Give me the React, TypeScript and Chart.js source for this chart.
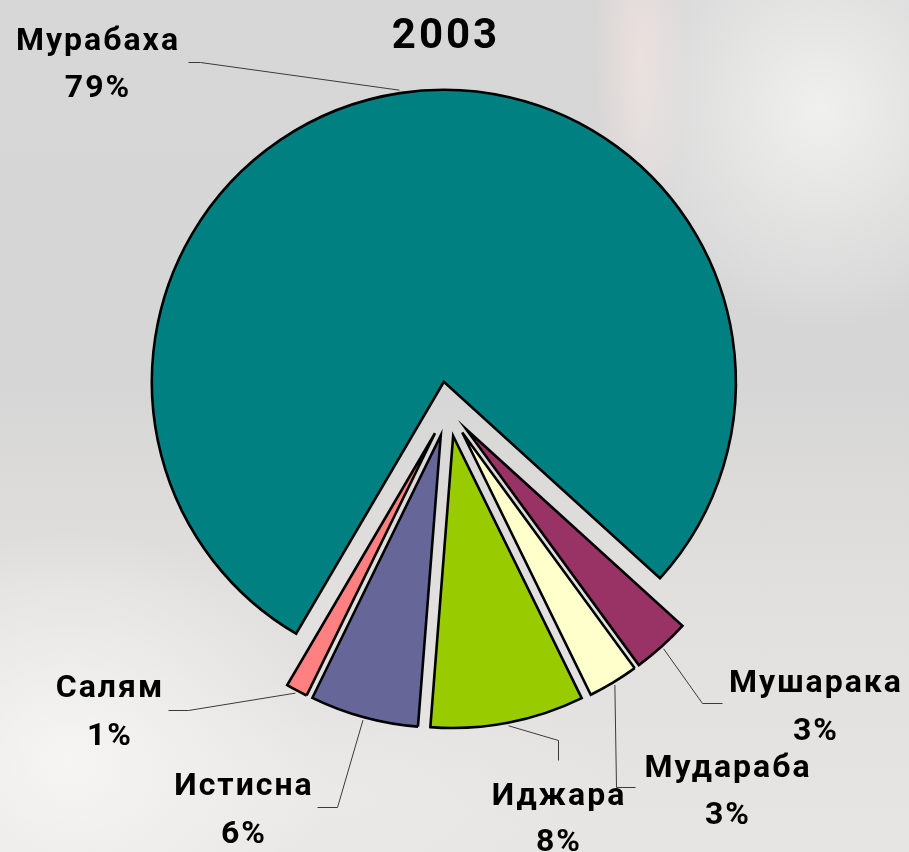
import { useEffect, useRef } from "react";
import { Chart, registerables } from "chart.js";

Chart.register(...registerables);

// ---- data ----
const chartTitle = "2003";
const categories = ["Мурабаха", "Мушарака", "Мудараба", "Иджара", "Истисна", "Салям"];
const shares = [78.3, 3.2, 2.8, 8.5, 6.0, 1.2];
const shareLabels = ["79%", "3%", "3%", "8%", "6%", "1%"];

// ---- styles / layout ----
const sliceColors = ["#008080", "#993366", "#FFFFCC", "#99CC00", "#666699", "#FF8080"];
const EXPLODE = 27.5;
const RADIUS = 292;
const labelLayout = [
  { cx: 97, b1: 50, b2: 97, path: [[200, 62], [188, 62]] },
  { cx: 815, b1: 692, b2: 740, path: [[702, 703], [722, 703]] },
  { cx: 727, b1: 777, b2: 824, path: [[616, 787], [635, 787]] },
  { cx: 558, b1: 805, b2: 851, path: [[558, 740], [558, 760]] },
  { cx: 243, b1: 795, b2: 843, path: [[337, 807], [317, 807]] },
  { cx: 109, b1: 697, b2: 745, path: [[188, 710], [168, 710]] },
];

const explodePlugin = {
  id: "explode",
  afterDatasetsUpdate(chart: any) {
    const { chartArea } = chart;
    const cx = (chartArea.left + chartArea.right) / 2;
    const cy = (chartArea.top + chartArea.bottom) / 2;
    chart.getDatasetMeta(0).data.forEach((arc: any) => {
      const mid = (arc.startAngle + arc.endAngle) / 2;
      arc.x = cx + Math.cos(mid) * EXPLODE;
      arc.y = cy + Math.sin(mid) * EXPLODE;
    });
  },
};

const labelPlugin = {
  id: "labels",
  afterDraw(chart: any) {
    const ctx = chart.ctx as CanvasRenderingContext2D;
    ctx.save();
    ctx.fillStyle = "#000";
    ctx.textAlign = "center";
    ctx.textBaseline = "alphabetic";
    (ctx as any).letterSpacing = "3px";
    ctx.font = "bold 42px Roboto";
    ctx.fillText(chartTitle, 446, 48);

    const arcs = chart.getDatasetMeta(0).data;
    arcs.forEach((arc: any, i: number) => {
      const lay = labelLayout[i];
      const mid = (arc.startAngle + arc.endAngle) / 2;
      const ax = arc.x + Math.cos(mid) * (arc.outerRadius + 3);
      const ay = arc.y + Math.sin(mid) * (arc.outerRadius + 3);
      ctx.strokeStyle = "#3a3a3a";
      ctx.lineWidth = 1;
      ctx.beginPath();
      ctx.moveTo(ax, ay);
      lay.path.forEach(([px, py]) => ctx.lineTo(px + 0.5, py + 0.5));
      ctx.stroke();

      (ctx as any).letterSpacing = "2px";
      ctx.font = "bold 32px Roboto";
      ctx.fillText(categories[i], lay.cx + 1, lay.b1);
      ctx.fillText(shareLabels[i], lay.cx + 1, lay.b2);
    });
    ctx.restore();
  },
};

export default function App() {
  const ref = useRef<HTMLCanvasElement>(null);
  useEffect(() => {
    if (!ref.current) return;
    const chart = new Chart(ref.current, {
      type: "pie",
      data: {
        labels: categories,
        datasets: [
          {
            data: shares,
            backgroundColor: sliceColors,
            borderColor: "#000000",
            borderWidth: 2.6,
            borderJoinStyle: "miter",
          } as any,
        ],
      },
      options: {
        animation: false,
        responsive: false,
        events: [],
        rotation: 210.4,
        radius: RADIUS,
        layout: { padding: { left: 0, right: 13, top: 0, bottom: 34 } },
        plugins: {
          legend: { display: false },
          tooltip: { enabled: false },
          title: { display: false },
        },
      } as any,
      plugins: [explodePlugin, labelPlugin],
    });
    return () => chart.destroy();
  }, []);

  return (
    <div
      style={{
        position: "fixed",
        left: 0,
        top: 0,
        width: 909,
        height: 852,
        overflow: "hidden",
        background: [
          "radial-gradient(ellipse 260px 230px at 70px 760px, rgba(246,245,244,1), rgba(246,245,244,0))",
          "radial-gradient(ellipse 200px 220px at 820px 110px, rgba(240,240,239,1), rgba(240,240,239,0))",
          "radial-gradient(ellipse 45px 190px at 640px 60px, rgba(236,225,222,0.95), rgba(236,225,222,0))",
          "radial-gradient(ellipse 300px 120px at 330px 800px, rgba(236,234,232,0.9), rgba(236,234,232,0))",
          "linear-gradient(to bottom, #d8d7d7 0%, #d6d6d6 45%, #e2e0de 70%, #e6e5e4 100%)",
        ].join(","),
      }}
    >
      <canvas ref={ref} width={909} height={852} style={{ display: "block" }} />
    </div>
  );
}
